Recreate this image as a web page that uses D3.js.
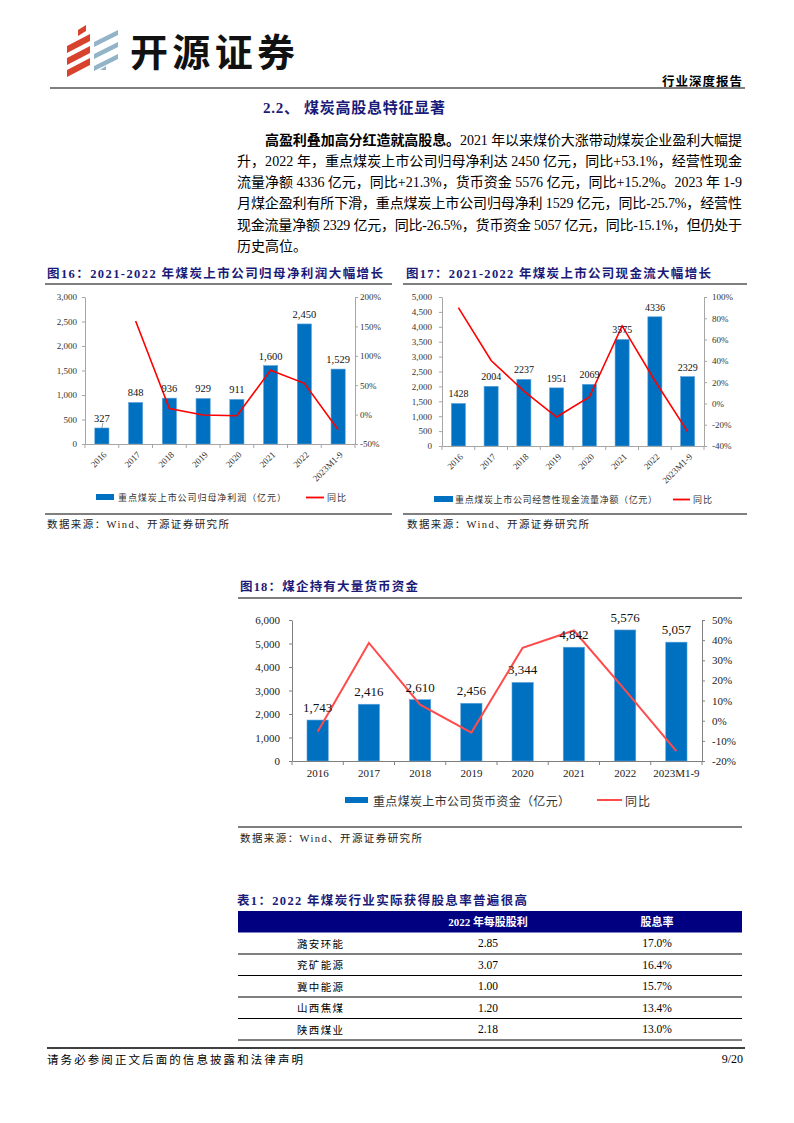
<!DOCTYPE html>
<html><head><meta charset="utf-8">
<script src="https://cdn.jsdelivr.net/npm/d3@7"></script>
<style>html,body{margin:0;padding:0;background:#fff;}svg{display:block;}</style>
</head><body>
<svg id="page" width="794" height="1123"></svg>
<script>
// ---------------- DATA ----------------
const years = ["2016","2017","2018","2019","2020","2021","2022","2023M1-9"];
const profitValues = [327, 848, 936, 929, 911, 1600, 2450, 1529];
const profitYoY   = [null, 159.3, 10.4, -0.7, -1.9, 75.6, 53.1, -25.7];
const profitTicks = [0, 500, 1000, 1500, 2000, 2500, 3000];
const profitPctTicks = [-50, 0, 50, 100, 150, 200];

const cashValues = [1428, 2004, 2237, 1951, 2069, 3575, 4336, 2329];
const cashYoY    = [90.0, 40.3, 11.6, -12.8, 6.0, 72.8, 21.3, -26.5];
const cashTicks  = [0, 500, 1000, 1500, 2000, 2500, 3000, 3500, 4000, 4500, 5000];
const cashPctTicks = [-40, -20, 0, 20, 40, 60, 80, 100];

const fundValues = [1743, 2416, 2610, 2456, 3344, 4842, 5576, 5057];
const fundYoY    = [-5.5, 38.6, 8.0, -5.9, 36.2, 44.8, 15.2, -15.1];
const fundTicks  = [0, 1000, 2000, 3000, 4000, 5000, 6000];
const fundPctTicks = [-20, -10, 0, 10, 20, 30, 40, 50];

const tableCompanies = ["潞安环能", "兖矿能源", "冀中能源", "山西焦煤", "陕西煤业"];
const tableDividend  = ["2.85", "3.07", "1.00", "1.20", "2.18"];
const tableYield     = ["17.0%", "16.4%", "15.7%", "13.4%", "13.0%"];
const tableHeaders   = ["", "2022 年每股股利", "股息率"];

const paraLines = [
  "升，2022 年，重点煤炭上市公司归母净利达 2450 亿元，同比+53.1%，经营性现金",
  "流量净额 4336 亿元，同比+21.3%，货币资金 5576 亿元，同比+15.2%。2023 年 1-9",
  "月煤企盈利有所下滑，重点煤炭上市公司归母净利 1529 亿元，同比-25.7%，经营性",
  "现金流量净额 2329 亿元，同比-26.5%，货币资金 5057 亿元，同比-15.1%，但仍处于"
];

// ---------------- STYLE ----------------
const SERIF = "'Liberation Serif','Times New Roman','Noto Sans CJK SC',serif";
const CJK = "'Noto Sans CJK SC','Liberation Serif',sans-serif";
const NAVY = "#1a1a78";
const BAR = "#0070C0";

const svg = d3.select("#page");
svg.append("rect").attr("width",794).attr("height",1123).attr("fill","#fff");

function txt(x, y, s, o = {}) {
  const t = svg.append("text").attr("x", x).attr("y", y)
    .attr("font-family", o.family || SERIF)
    .attr("font-size", o.size || 12)
    .attr("font-weight", o.weight || "normal")
    .attr("fill", o.fill || "#000")
    .attr("text-anchor", o.anchor || "start")
    .attr("dominant-baseline", "central")
    .text(s);
  if (o.len) t.attr("textLength", o.len).attr("lengthAdjust", "spacing");
  return t;
}
function hline(x1, x2, y, w = 1, c = "#000") {
  svg.append("line").attr("x1", x1).attr("x2", x2).attr("y1", y).attr("y2", y)
    .attr("stroke", c).attr("stroke-width", w);
}

// ---------------- HEADER ----------------
const logo = svg.append("g");
for (let i = 0; i < 3; i++) {
  logo.append("path").attr("d", `M67,${46+i*12} L90,${34+i*12} L90,${41+i*12} L67,${53+i*12} Z`).attr("fill", "#D8432D");
  logo.append("path").attr("d", `M94,${42+i*12} L118,${30+i*12} L118,${35+i*12} L94,${47+i*12} Z`).attr("fill", "#93B4C8");
}
logo.append("path").attr("d", "M78,30 L86,25 L86,31 L78,36 Z").attr("fill", "#D8432D");
logo.append("path").attr("d", "M100,70 L106,66 L106,70 Z").attr("fill", "#93B4C8");
txt(130, 49, "开源证券", {family: CJK, size: 38, weight: "bold", len: 165, fill: "#111"});
txt(742, 80, "行业深度报告", {family: CJK, size: 12.5, weight: "bold", anchor: "end", len: 80});
hline(50, 745, 88, 1.6, "#555");

// ---------------- SECTION TEXT ----------------
txt(263, 108, "2.2、 煤炭高股息特征显著", {family: SERIF, size: 15, weight: "bold", fill: NAVY, len: 182});
{
  const t = svg.append("text").attr("x", 265).attr("y", 139.5)
    .attr("font-family", SERIF).attr("font-size", 14).attr("dominant-baseline", "central")
    .attr("textLength", 477).attr("lengthAdjust", "spacing");
  t.append("tspan").attr("font-weight", "bold").text("高盈利叠加高分红造就高股息。");
  t.append("tspan").text("2021 年以来煤价大涨带动煤炭企业盈利大幅提");
}
paraLines.forEach((s, i) => txt(237, 161 + i * 21.4, s, {size: 14, len: 505}));
txt(237, 246.5, "历史高位。", {size: 14});

// ---------------- COMBO CHART ----------------
function combo(o) {
  const g = svg.append("g");
  const x = d3.scaleBand().domain(years).range([o.x0, o.x1]).padding(0);
  const bw = x.bandwidth();
  const yL = d3.scaleLinear().domain([0, o.maxL]).range([o.y1, o.y0]);
  const yR = d3.scaleLinear().domain([o.minR, o.maxR]).range([o.y1, o.y0]);

  // bars
  g.selectAll("rect.bar").data(o.values).enter().append("rect")
    .attr("x", (d, i) => x(years[i]) + bw * (1 - o.barRatio) / 2)
    .attr("width", bw * o.barRatio)
    .attr("y", d => yL(d)).attr("height", d => yL(0) - yL(d))
    .attr("fill", BAR).attr("stroke", "#5FA3DC").attr("stroke-width", 0.6);

  // left axis
  const aL = g.append("g").attr("transform", `translate(${o.x0},0)`)
    .call(d3.axisLeft(yL).tickValues(o.ticksL).tickFormat(d3.format(",")).tickSize(3).tickSizeOuter(0).tickPadding(o.padL));
  // right axis
  const aR = g.append("g").attr("transform", `translate(${o.x1},0)`)
    .call(d3.axisRight(yR).tickValues(o.ticksR).tickFormat(d => d + "%").tickSize(3).tickSizeOuter(0).tickPadding(o.padR));
  // bottom axis
  const aB = g.append("g").attr("transform", `translate(0,${o.y1})`)
    .call(d3.axisBottom(x).tickSize(0).tickSizeOuter(0).tickPadding(o.padB));
  [aL, aR, aB].forEach(a => {
    a.selectAll("path.domain").attr("stroke", o.axisColor).attr("stroke-width", 1);
    a.selectAll(".tick line").attr("stroke", o.axisColor);
    a.selectAll("text").attr("font-family", SERIF).attr("font-size", o.axisFont).attr("fill", o.textColor);
  });
  if (o.rotate) {
    aB.selectAll("text").attr("text-anchor", "end").attr("y", 0).attr("dy", "0.35em")
      .attr("transform", "translate(3,9) rotate(-45)");
  }
  // category boundary ticks
  const bounds = years.map(d => x(d)).concat([o.x1]);
  g.selectAll("line.bt").data(bounds).enter().append("line")
    .attr("x1", d => d).attr("x2", d => d).attr("y1", o.y1).attr("y2", o.y1 + 4)
    .attr("stroke", o.axisColor);

  // YoY line
  const pts = o.yoy.map((v, i) => ({v, c: x(years[i]) + bw / 2}));
  g.append("path").datum(pts)
    .attr("d", d3.line().defined(d => d.v != null).x(d => d.c).y(d => yR(d.v)))
    .attr("fill", "none").attr("stroke", o.lineColor).attr("stroke-width", o.lineWidth)
    .attr("stroke-linejoin", "miter");

  // data labels
  g.selectAll("text.lbl").data(o.values).enter().append("text")
    .attr("x", (d, i) => x(years[i]) + bw / 2)
    .attr("y", d => yL(d) - o.labelGap)
    .attr("text-anchor", "middle").attr("font-family", SERIF).attr("font-size", o.labelFont)
    .attr("fill", "#111").text(d => o.labelFmt(d));
  return {x, yL, yR, g};
}

// ---------------- FIGURE 16 ----------------
txt(47, 274, "图16：2021-2022 年煤炭上市公司归母净利润大幅增长", {size: 12.5, weight: "bold", fill: NAVY, len: 336});
hline(45, 392, 284, 1.2);
const c16 = combo({x0: 85, x1: 355, y0: 297, y1: 444, maxL: 3000, ticksL: profitTicks,
  minR: -50, maxR: 200, ticksR: profitPctTicks, values: profitValues, yoy: profitYoY,
  barRatio: 0.42, axisColor: "#A6A6A6", textColor: "#333", axisFont: 9, labelFont: 10.5,
  labelGap: 6, labelFmt: d3.format(","), rotate: true, lineColor: "#FF0000", lineWidth: 1.6,
  padL: 5, padR: 2, padB: 8});
// leader line for first label
c16.g.append("line").attr("x1", c16.x(years[0]) + c16.x.bandwidth()/2 + 1).attr("x2", c16.x(years[0]) + c16.x.bandwidth()/2)
  .attr("y1", c16.yL(profitValues[0]) - 5).attr("y2", c16.yL(profitValues[0])).attr("stroke", "#666").attr("stroke-width", 0.6);
svg.append("rect").attr("x", 96).attr("y", 494).attr("width", 18).attr("height", 6).attr("fill", BAR);
txt(118, 497.5, "重点煤炭上市公司归母净利润（亿元）", {family: CJK, size: 9, len: 168, fill: "#333"});
hline(306, 324, 497.5, 1.8, "#FF0000");
txt(327, 497.5, "同比", {family: CJK, size: 9, fill: "#333", len: 19});
hline(45, 392, 514, 1.2);
txt(47, 524.5, "数据来源：Wind、开源证券研究所", {size: 10.5, len: 182, fill: "#222"});

// ---------------- FIGURE 17 ----------------
txt(406, 274, "图17：2021-2022 年煤炭上市公司现金流大幅增长", {size: 12.5, weight: "bold", fill: NAVY, len: 305});
hline(403, 747, 284, 1.2);
combo({x0: 442, x1: 704, y0: 297, y1: 446, maxL: 5000, ticksL: cashTicks,
  minR: -40, maxR: 100, ticksR: cashPctTicks, values: cashValues, yoy: cashYoY,
  barRatio: 0.43, axisColor: "#A6A6A6", textColor: "#333", axisFont: 9, labelFont: 10,
  labelGap: 6, labelFmt: d => String(d), rotate: true, lineColor: "#FF0000", lineWidth: 1.6,
  padL: 7, padR: 5, padB: 8});
svg.append("rect").attr("x", 434).attr("y", 496).attr("width", 19).attr("height", 6).attr("fill", BAR);
txt(455, 499.5, "重点煤炭上市公司经营性现金流量净额（亿元）", {family: CJK, size: 9, len: 202, fill: "#333"});
hline(673, 690, 499.5, 1.8, "#FF0000");
txt(693, 499.5, "同比", {family: CJK, size: 9, fill: "#333", len: 19});
hline(403, 747, 514, 1.2);
txt(407, 524.5, "数据来源：Wind、开源证券研究所", {size: 10.5, len: 182, fill: "#222"});

// ---------------- FIGURE 18 ----------------
txt(240, 587, "图18：煤企持有大量货币资金", {size: 12.5, weight: "bold", fill: NAVY, len: 178});
hline(238, 742, 598, 1.2);
combo({x0: 292, x1: 702, y0: 620, y1: 761, maxL: 6000, ticksL: fundTicks,
  minR: -20, maxR: 50, ticksR: fundPctTicks, values: fundValues, yoy: fundYoY,
  barRatio: 0.415, axisColor: "#808080", textColor: "#222", axisFont: 11, labelFont: 13,
  labelGap: 8, labelFmt: d3.format(","), rotate: false, lineColor: "#FF4B4B", lineWidth: 2,
  padL: 9, padR: 7, padB: 8});
svg.append("rect").attr("x", 345).attr("y", 797).attr("width", 23).attr("height", 6).attr("fill", BAR);
txt(373, 800, "重点煤炭上市公司货币资金（亿元）", {family: CJK, size: 12, len: 197, fill: "#333"});
hline(597, 622, 800, 2, "#FF4B4B");
txt(625, 800, "同比", {family: CJK, size: 12, fill: "#333", len: 25});
hline(238, 742, 827, 1.2);
txt(240, 838, "数据来源：Wind、开源证券研究所", {size: 10.5, len: 182, fill: "#222"});

// ---------------- TABLE ----------------
txt(237, 901, "表1：2022 年煤炭行业实际获得股息率普遍很高", {size: 12.5, weight: "bold", fill: NAVY, len: 290});
const colX = [320, 488, 657];
svg.append("rect").attr("x", 238).attr("y", 911).attr("width", 504).attr("height", 21.5).attr("fill", "#000080");
tableHeaders.forEach((h, i) => { if (h) txt(colX[i], 922, h, {size: 11, weight: "bold", fill: "#fff", anchor: "middle"}); });
const rowY = d3.scaleBand().domain(d3.range(tableCompanies.length)).range([932.5, 1040]);
tableCompanies.forEach((name, i) => {
  const cy = rowY(i) + rowY.bandwidth() / 2;
  txt(colX[0], cy, name, {family: CJK, size: 10.5, anchor: "middle", len: 46});
  txt(colX[1], cy, tableDividend[i], {size: 11.5, anchor: "middle"});
  txt(colX[2], cy, tableYield[i], {size: 11.5, anchor: "middle"});
  hline(238, 742, rowY(i) + rowY.bandwidth(), 1, "#000");
});

// ---------------- FOOTER ----------------
hline(47, 745, 1048, 1.4, "#000");
txt(47, 1058.5, "请务必参阅正文后面的信息披露和法律声明", {family: CJK, size: 11.5, len: 256});
txt(743, 1058.5, "9/20", {size: 12, anchor: "end"});
</script>
</body></html>
